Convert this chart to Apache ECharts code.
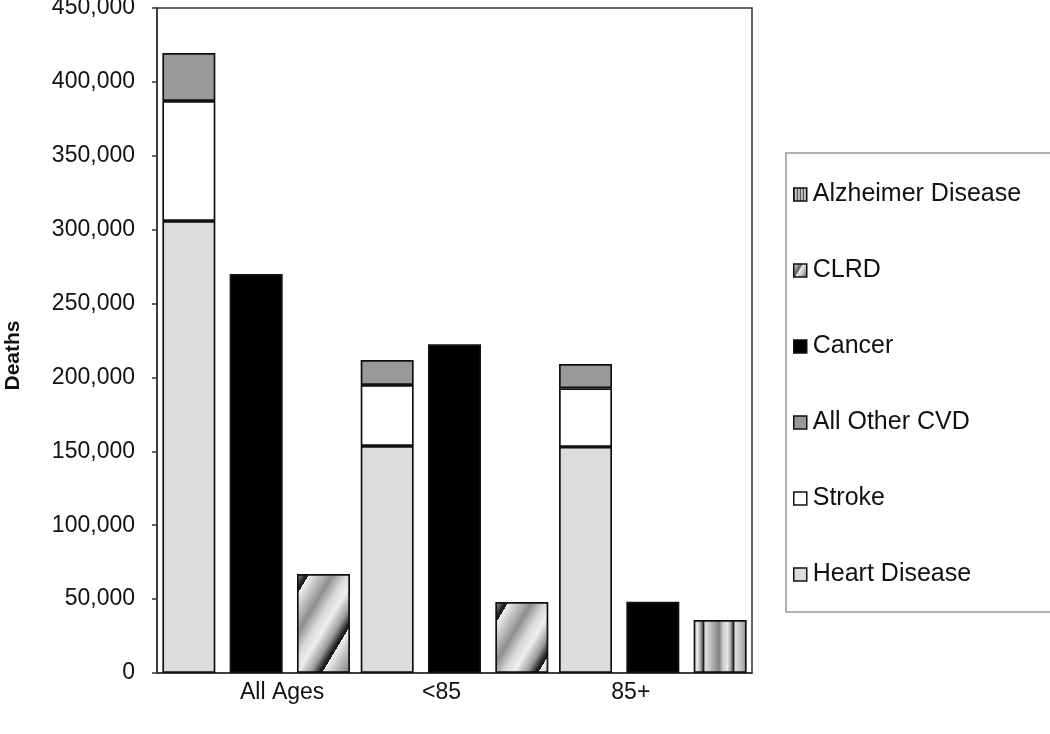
<!DOCTYPE html>
<html>
<head>
<meta charset="utf-8">
<script src="https://cdn.jsdelivr.net/npm/echarts@6/dist/echarts.min.js"></script>
<style>
html,body{margin:0;padding:0;background:#fff;}
#chart{width:1050px;height:734px;}
</style>
</head>
<body>
<div id="chart"></div>
<script>
// ---- data ----
var categories = ['All Ages', '<85', '85+'];
var heartDisease = [305900, 153600, 153000];
var stroke = [81200, 41300, 39700];
var otherCVD = [32400, 16900, 16400];
var cancer = [270000, 222500, 48200];
var clrd = [67000, 48000, null];
var alzheimer = [null, null, 35900];
var legendOrder = ['Alzheimer Disease', 'CLRD', 'Cancer', 'All Other CVD', 'Stroke', 'Heart Disease'];

// ---- pattern helpers (style only) ----
function hexToRgb(h) {
  h = h.replace('#', '');
  return [parseInt(h.substr(0, 2), 16), parseInt(h.substr(2, 2), 16), parseInt(h.substr(4, 2), 16)];
}
function profileColor(stops, p) {
  for (var i = 0; i < stops.length - 1; i++) {
    var a = stops[i], b = stops[i + 1];
    if (p >= a[0] && p <= b[0]) {
      var t = (p - a[0]) / (b[0] - a[0] || 1);
      var ca = hexToRgb(a[1]), cb = hexToRgb(b[1]);
      return [ca[0] + (cb[0] - ca[0]) * t, ca[1] + (cb[1] - ca[1]) * t, ca[2] + (cb[2] - ca[2]) * t];
    }
  }
  return hexToRgb(stops[stops.length - 1][1]);
}
function makePattern(w, h, phaseFn, stops) {
  var c = document.createElement('canvas');
  c.width = w; c.height = h;
  var ctx = c.getContext('2d');
  var img = ctx.createImageData(w, h);
  for (var y = 0; y < h; y++) {
    for (var x = 0; x < w; x++) {
      var p = phaseFn(x, y);
      var col = profileColor(stops, p);
      var k = (y * w + x) * 4;
      img.data[k] = col[0]; img.data[k + 1] = col[1]; img.data[k + 2] = col[2]; img.data[k + 3] = 255;
    }
  }
  ctx.putImageData(img, 0, 0);
  return c;
}
var diagCanvas = makePattern(72, 120, function (x, y) {
  var v = (x + 0.6 * y + 67) % 72;
  return v / 72;
}, [[0, '#f2f2f2'], [0.1, '#d2d2d2'], [0.33, '#8e8e8e'], [0.52, '#dadada'], [0.66, '#eeeeee'], [0.84, '#9a9a9a'], [0.96, '#1e1e1e'], [1, '#1e1e1e']]);
var vertCanvas = makePattern(30, 4, function (x, y) {
  var v = ((x - 13) % 30 + 30) % 30;
  return v / 30;
}, [[0, '#1e1e1e'], [0.06, '#dedede'], [0.22, '#c4c4c4'], [0.52, '#808080'], [0.66, '#d0d0d0'], [0.8, '#e6e6e6'], [0.9, '#a8a8a8'], [0.97, '#555555'], [1, '#1e1e1e']]);
// small legend-icon versions
var diagIcon = makePattern(12, 20, function (x, y) {
  var v = (x + 0.6 * y + 3) % 12;
  return v / 12;
}, [[0, '#f0f0f0'], [0.3, '#c8c8c8'], [0.6, '#9a9a9a'], [0.85, '#555555'], [1, '#f0f0f0']]);
var vertIcon = makePattern(3, 3, function (x, y) {
  return x / 3;
}, [[0, '#333333'], [0.34, '#bbbbbb'], [0.67, '#dddddd'], [1, '#dddddd']]);

var patternFill = {
  'CLRD': {image: diagCanvas, repeat: 'repeat'},
  'Alzheimer Disease': {image: vertCanvas, repeat: 'repeat'}
};
var iconFill = {
  'Alzheimer Disease': {image: vertIcon, repeat: 'repeat'},
  'CLRD': {image: diagIcon, repeat: 'repeat'},
  'Cancer': '#000000',
  'All Other CVD': '#999999',
  'Stroke': '#ffffff',
  'Heart Disease': '#dcdcdc'
};

var chart = echarts.init(document.getElementById('chart'), null, {renderer: 'canvas'});

var barStyle = function (color) {
  return {color: color, borderColor: '#111', borderWidth: 1.7};
};
var BW = 53;

var option = {
  backgroundColor: '#ffffff',
  animation: false,
  grid: {left: 157, right: 298, top: 8, bottom: 61, show: true, borderColor: '#333', borderWidth: 1.5, backgroundColor: 'transparent', containLabel: false, outerBoundsMode: 'none'},
  legend: {
    orient: 'vertical',
    left: 786,
    top: 153,
    data: legendOrder.map(function (n) {
      return {name: n, icon: 'rect', itemStyle: {color: iconFill[n], borderColor: '#111', borderWidth: 1.5}};
    }),
    backgroundColor: '#fff',
    borderColor: '#999',
    borderWidth: 1.5,
    padding: [29, 40, 25, 7],
    itemGap: 51,
    itemWidth: 13,
    itemHeight: 13,
    textStyle: {fontFamily: 'Liberation Sans, Arial, sans-serif', fontSize: 25, color: '#111', lineHeight: 24, padding: [0, 0, 0, 1]},
    selectedMode: false
  },
  xAxis: {
    type: 'category',
    data: categories,
    axisLine: {lineStyle: {color: '#333', width: 1.5}},
    axisTick: {show: false},
    axisLabel: {
      margin: 8,
      fontFamily: 'Liberation Sans, Arial, sans-serif',
      fontSize: 23,
      color: '#111',
      formatter: function (v, i) {
        return '{l' + i + '|' + v + '}';
      },
      rich: {
        l0: {fontSize: 23, color: '#111', padding: [0, 0, 0, 52]},
        l1: {fontSize: 23, color: '#111', padding: [0, 26, 0, 0]},
        l2: {fontSize: 23, color: '#111', padding: [0, 44, 0, 0]}
      }
    }
  },
  yAxis: {
    type: 'value',
    min: 0,
    max: 450000,
    interval: 50000,
    name: 'Deaths',
    nameLocation: 'middle',
    nameGap: 133,
    nameRotate: 90,
    nameTextStyle: {fontFamily: 'Liberation Sans, Arial, sans-serif', fontWeight: 'bold', fontSize: 21, color: '#111', padding: [0, 30, 0, 0]},
    axisLine: {show: true, lineStyle: {color: '#333', width: 1.5}},
    axisTick: {show: true, inside: false, length: 5, lineStyle: {color: '#333', width: 1.5}},
    splitLine: {show: false},
    axisLabel: {
      margin: 22,
      fontFamily: 'Liberation Sans, Arial, sans-serif',
      fontSize: 23,
      color: '#111',
      formatter: function (v) { return v.toLocaleString('en-US'); }
    }
  },
  series: [
    {name: 'Heart Disease', type: 'bar', stack: 'cvd', data: heartDisease, barWidth: BW, barGap: '27%', itemStyle: barStyle('#dcdcdc')},
    {name: 'Stroke', type: 'bar', stack: 'cvd', data: stroke, barWidth: BW, itemStyle: barStyle('#ffffff')},
    {name: 'All Other CVD', type: 'bar', stack: 'cvd', data: otherCVD, barWidth: BW, itemStyle: barStyle('#999999')},
    {name: 'Cancer', type: 'bar', stack: 'can', data: cancer, barWidth: BW, itemStyle: barStyle('#000000')},
    {name: 'CLRD', type: 'bar', stack: 'third', data: clrd, barWidth: BW, itemStyle: barStyle(patternFill['CLRD'])},
    {name: 'Alzheimer Disease', type: 'bar', stack: 'third', data: alzheimer, barWidth: BW, itemStyle: barStyle(patternFill['Alzheimer Disease'])}
  ]
};
chart.setOption(option);
</script>
</body>
</html>
